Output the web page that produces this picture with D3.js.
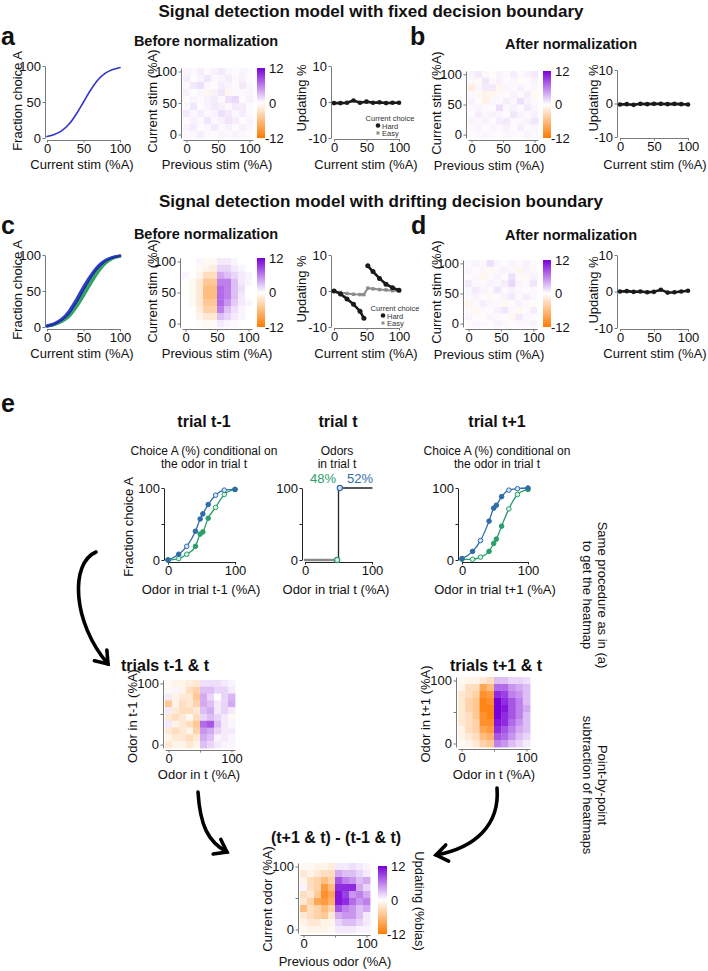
<!DOCTYPE html>
<html><head><meta charset="utf-8">
<script src="https://cdn.jsdelivr.net/npm/d3@7"></script>
<style>body{margin:0;background:#fff}</style>
</head><body><script>
// ---------------- DATA ----------------
const stim = [0,10,20,30,40,50,60,70,80,90,100];
const psychA = [2,5,10,19,33,50,67,81,90,95,98];
const psychC_green1 = [1,3,7,14,27,43,60,76,88,95,98];
const psychC_green2 = [1,3,8,16,30,47,64,79,90,96,98];
const psychC_blue1 = [1,4,10,20,35,53,70,83,92,97,99];
const psychC_blue2 = [2,5,11,22,38,56,72,85,93,97,99];
const psychC_navy = [1,4,9,18,33,51,68,82,91,96,99];

const updA = [-0.3,-0.3,-0.2,0.4,-0.2,0.1,-0.2,-0.1,-0.3,-0.2,-0.2];
const updB = [-0.3,-0.2,-0.4,-0.1,-0.2,-0.1,-0.1,-0.2,-0.1,-0.2,-0.3];
const updD = [0,0.1,-0.1,0,-0.2,-0.1,0.5,-0.3,-0.2,0,0.2];
const updC_hardL_x = [0,10,20,30,40,46];
const updC_hardL_y = [0,-0.8,-2.2,-3.7,-5.6,-7.6];
const updC_hardR_x = [52,60,70,80,90,100];
const updC_hardR_y = [7,5.4,3.5,1.9,0.9,0.2];
const updC_easy_x = [0,10,20,30,40,46,52,60,70,80,90,100];
const updC_easy_y = [0,-0.4,-0.7,-0.9,-1,-1,0.8,0.6,0.4,0.3,0.1,0.1];

const heatA = [
 [0.5,0.3,0.8,0.2,0.6,1.0,0.4,0.2,0.5,0.3],
 [0.8,0.2,0.5,1.2,0.3,0.5,0.9,0.3,0.6,0.2],
 [0.3,1.0,1.5,0.4,0.2,0.8,0.5,0.2,1.0,0.4],
 [0.6,0.2,0.4,-0.8,0.6,1.2,-0.6,0.4,0.3,0.5],
 [0.2,0.5,0.3,0.6,0.9,0.3,1.5,1.8,0.2,0.6],
 [0.4,1.2,0.2,0.5,1.0,0.7,0.3,1.0,0.8,0.2],
 [1.0,0.3,0.8,0.3,0.5,1.5,1.0,0.4,0.9,0.3],
 [0.2,0.6,0.4,1.2,0.3,0.6,1.3,0.8,0.2,0.5],
 [0.5,0.9,0.2,0.4,1.0,0.3,0.6,0.2,0.7,0.4],
 [0.3,0.4,0.8,0.3,0.2,0.5,0.3,0.6,0.4,0.2]];
const heatB = [
 [0.5,1,0.3,-0.2,0.5,0.3,0.8,0.2,0.5,1],
 [0.3,-0.5,1.2,0.3,0.6,0.2,0.4,-0.3,0.2,0.5],
 [-1.5,0.4,1,1,-0.8,0.5,0.3,0.6,0.2,0.3],
 [0.3,-0.5,-1,-0.8,0.4,-0.3,0.6,0.3,0.8,-0.5],
 [0.6,0.2,-1.2,0.4,0.3,0.8,0.4,1.5,0.6,0.3],
 [0.4,0.5,0.3,0.2,1.5,0.3,0.6,0.3,1,0.4],
 [0.2,0.8,0.4,0.6,0.5,0.2,1.2,0.5,0.3,0.6],
 [0.5,0.3,0.6,0.2,0.8,1,0.3,0.4,0.6,1.2],
 [0.3,0.5,0.2,0.5,0.3,0.6,0.2,0.8,0.3,0.4],
 [0.2,0.3,0.5,0.3,0.2,0.4,0.3,0.2,0.5,0.3]];
const heatC = [
 [0,0,0.5,-0.5,-0.5,1,1,0.5,0,0],
 [0,0,-0.5,-1,-1.5,2,2,1,0.5,0],
 [0.5,0,-1,-3,-3,4,3,2,1,0.5],
 [0,-0.5,-2,-5,-5,6,6,3,1,0.5],
 [0,-0.5,-2,-6,-6,7,6,3,1.5,0],
 [0,-0.5,-2,-6,-6,7,6,3,1,0],
 [0,-0.5,-2,-5,-5,7,5,2.5,1,0.5],
 [0,0,-1.5,-4,-4,6,3,1.5,0.5,0],
 [0,0,-1,-2,-2,3,2,1,0.5,0],
 [0,0,-0.3,-0.5,-0.5,1,0.5,0.3,0,0]];
const heatD = [
 [0.3,0.5,0.3,1.5,0.4,0.2,0.5,0.3,0.6,0.2],
 [0.5,0.2,0.4,-0.5,0.3,0.6,0.4,-0.8,0.5,0.3],
 [0.2,0.4,-0.8,0.3,0.5,0.2,1.5,0.3,-0.5,0.6],
 [1,0.3,0.2,0.6,0.4,0.8,2,0.5,0.3,1.2],
 [0.4,1,0.5,0.3,1.2,0.3,0.6,0.4,0.2,0.3],
 [0.3,0.6,0.2,-0.5,0.2,0.5,1,0.3,0.8,0.4],
 [-0.8,0.3,0.8,0.4,0.3,-0.5,0.2,0.6,0.3,-0.3],
 [0.3,-0.6,0.3,0.2,0.6,1.2,0.4,-0.5,0.2,0.8],
 [0.5,0.2,-0.4,0.5,0.3,0.2,-0.6,1,0.4,0.2],
 [0.2,0.4,0.3,0.2,0.5,0.3,0.2,0.4,0.3,0.5]];

const odor = [0,16,28,41,48,52,60,71,84,100];
const tm1Blue = [0,8,19,40,57,64,77,90,97,98];
const tm1Green = [0,2,8,19,36,39,58,73,91,98];
const tp1Blue = [2,12,27,54,72,76,88,97,99,100];
const tp1Green = [1,1,4,12,23,29,47,71,91,98];
const blueOpen = [0,0,1,0,0,0,0,1,1,0];
const greenOpen = [0,1,1,0,0,0,0,1,1,0];
const tGrayX = [0,48], tGrayY = [0,0];
const tStepX = [50,50,100], tStepY = [0,100,100];
const tGreenPt = [48,0], tBluePt = [52,100];

const heatTm1 = [
 [-0.5,-1,-1,-1.5,-2,1.5,1.5,1.5,1,0.5],
 [-0.5,0.5,-1,-3,-4,3,3,2,2,1],
 [1,-1,-2,-2,-5,4,2,0,2,3.5],
 [-5,-1,-3,-2,-4,4,3,1,2,4],
 [1,-2,-3,-3,-2,3,4,1,2,1],
 [-2,-3,-2,-0.5,-3,2,3,2,1,-0.5],
 [1,-1,-2,-3,-5,7,8,3,1,0.5],
 [-2,-3,-2,-1,-4,5,4,2,1,1],
 [-1,-2,-2,-3,-2,4,3,0.5,1,0.5],
 [-2,-1,-1,-2,-1,3,2,1,0.5,0.5]];
const heatTp1 = [
 [-0.5,-1,-1,-2,-3,3,3,2,2,1.5],
 [-1,-3,-3,-8,-6,7,7,5,4,3],
 [-2,-3,-4,-10,-9,10,9,6,5,3],
 [-2,-4,-5,-11,-10,12,10,8,6,3],
 [-2,-4,-5,-11,-11,12,11,8,6,4],
 [-2,-3,-5,-10,-11,12,10,8,6,3],
 [-2,-3,-4,-10,-10,11,10,7,5,3],
 [-1,-3,-4,-8,-9,10,8,6,4,3],
 [-1,-2,-3,-6,-7,8,7,5,3,2],
 [-0.5,-1,-2,-4,-5,6,5,3,2,1]];
const heatDiff = [
 [-0.5,-0.5,-1,-1,-1.5,1,1,1.5,1,0.5],
 [-2,-1,-2,-3,-3,4,3,3,2,1],
 [-1,-3,-4,-6,-4,8,6,5,3,4],
 [0.5,-3,-4,-9,-6,10,10,10,4,2],
 [-3,-2,-5,-10,-8,11,9,5,6,4],
 [-2,-4,-8,-9,-7,11,10,7,5,6],
 [-6,-3,-4,-6,-4,8,6,5,3,4],
 [-2,-3,-4,-5,-2,4,5,5,3,1],
 [-1,-2,-2,-1,-1,2,3,3,2,1],
 [-0.5,-1,-1,-1,-0.5,1,1,1,0.5,0.5]];

const tickStim = [0,50,100], tickUpd = [-10,0,10];

// ---------------- DRAWING ----------------
const FONT = '"Liberation Sans", Arial, Helvetica, sans-serif';
const ORANGE = '#ff7a00', PURPLE = '#7a00d8';
const GRAY = '#7a7a7a';
const BLUE_E = '#2f6ca8', GREEN_E = '#2a9f6c';
const color = d3.scaleLinear().domain([-12,0,12]).range([ORANGE,'#ffffff',PURPLE]).clamp(true);

const svg = d3.select('body').append('svg').attr('width',708).attr('height',971)
  .style('font-family',FONT);
const defs = svg.append('defs');
const grad = defs.append('linearGradient').attr('id','cbar').attr('x1',0).attr('y1',1).attr('x2',0).attr('y2',0);
d3.range(0,1.0001,0.1).forEach(t=>grad.append('stop').attr('offset',t).attr('stop-color',color(-12+24*t)));

function txt(x,y,s,o={}){
  const t = svg.append('text').attr('x',x).attr('y',y).text(s)
    .attr('font-size',o.fs||13).attr('text-anchor',o.anchor||'middle')
    .attr('fill',o.fill||'#111').attr('font-family',FONT);
  if(o.bold) t.attr('font-weight','bold');
  if(o.rot){ t.attr('transform',`rotate(${o.rot},${x},${y})`).attr('dy','0.35em'); }
  return t;
}
function styleAxis(g,col,fs){
  g.attr('font-family',FONT);
  g.select('.domain').attr('stroke',col).attr('stroke-width',1);
  g.selectAll('.tick line').attr('stroke',col);
  g.selectAll('.tick text').attr('font-size',fs).attr('fill','#111');
}
function axL(scale,x,vals,labels,col,fs=13){
  const a = d3.axisLeft(scale).tickValues(vals).tickSize(2.5).tickSizeOuter(0).tickPadding(1.5)
    .tickFormat((d,i)=>labels[i]);
  styleAxis(svg.append('g').attr('transform',`translate(${x},0)`).call(a),col,fs);
}
function axB(scale,y,vals,labels,col,fs=13){
  const a = d3.axisBottom(scale).tickValues(vals).tickSize(2.5).tickSizeOuter(0).tickPadding(1.5)
    .tickFormat((d,i)=>labels[i]);
  styleAxis(svg.append('g').attr('transform',`translate(0,${y})`).call(a),col,fs);
}
function drawLine(xs,ys,sx,sy,o){
  const ln = d3.line().x((d,i)=>sx(xs[i])).y((d,i)=>sy(ys[i])).curve(o.curve||d3.curveLinear);
  svg.append('path').attr('d',ln(xs)).attr('fill','none').attr('stroke',o.stroke)
    .attr('stroke-width',o.w||1.5).attr('stroke-linejoin','round').attr('stroke-linecap','round');
}
function dots(xs,ys,sx,sy,o){
  svg.append('g').selectAll('circle').data(xs).join('circle')
    .attr('cx',(d,i)=>sx(xs[i])).attr('cy',(d,i)=>sy(ys[i])).attr('r',o.r||2.3)
    .attr('fill',(d,i)=> o.open && o.open[i] ? (o.openFill||'#fff') : o.fill)
    .attr('stroke',o.stroke||'none').attr('stroke-width',o.sw||1);
}
function heatmap(data,x0,y0,w,h,o){
  const n=data.length, m=data[0].length;
  const xb=d3.scaleBand().domain(d3.range(m)).range([x0,x0+w]);
  const yb=d3.scaleBand().domain(d3.range(n)).range([y0,y0+h]);
  const cells=[]; data.forEach((row,r)=>row.forEach((v,c)=>cells.push({r,c,v})));
  svg.append('g').selectAll('rect').data(cells).join('rect')
    .attr('x',d=>xb(d.c)).attr('y',d=>yb(d.r))
    .attr('width',xb.bandwidth()+0.4).attr('height',yb.bandwidth()+0.4)
    .attr('fill',d=>color(d.v));
  const hx=50/(m-1), hy=50/(n-1);
  const xl=d3.scaleLinear().domain([-hx,100+hx]).range([x0,x0+w]);
  const yl=d3.scaleLinear().domain([-hy,100+hy]).range([y0+h,y0]);
  const labs = o.midLabel===false ? ['0','','100'] : ['0','50','100'];
  axL(yl,x0-2,tickStim,labs,GRAY,o.fs||13);
  axB(xl,y0+h+2,tickStim,labs,GRAY,o.fs||13);
  if(o.cbar){
    const c=o.cbar;
    const cs=d3.scaleLinear().domain([-12,12]).range([c.y+c.h,c.y]);
    svg.append('rect').attr('x',c.x).attr('y',cs(12)).attr('width',c.w).attr('height',cs(-12)-cs(12)).attr('fill','url(#cbar)');
    [12,0,-12].forEach(v=>{
      txt(c.x+c.w+(v<0?0:4), cs(v), String(v), {anchor:'start'}).attr('dy','0.35em');
    });
  }
}
function arrow(p0,c1,c2,p1){
  svg.append('path').attr('d',`M${p0}C${c1} ${c2} ${p1}`).attr('fill','none')
    .attr('stroke','#000').attr('stroke-width',3.6).attr('stroke-linecap','round');
  const dx=p1[0]-c2[0], dy=p1[1]-c2[1], L=Math.hypot(dx,dy);
  const bx=-dx/L, by=-dy/L, len=14, a=36*Math.PI/180;
  const w1=[p1[0]+len*(bx*Math.cos(a)-by*Math.sin(a)), p1[1]+len*(bx*Math.sin(a)+by*Math.cos(a))];
  const w2=[p1[0]+len*(bx*Math.cos(a)+by*Math.sin(a)), p1[1]+len*(-bx*Math.sin(a)+by*Math.cos(a))];
  svg.append('path').attr('d',`M${w1}L${p1}L${w2}`).attr('fill','none')
    .attr('stroke','#000').attr('stroke-width',3.6).attr('stroke-linecap','round').attr('stroke-linejoin','miter');
}
function legend(cx,y,mx){
  txt(cx,y,'Current choice',{fs:7.5,fill:'#333'});
  svg.append('circle').attr('cx',mx).attr('cy',y+4.5).attr('r',2.3).attr('fill','#1a1a1a');
  txt(mx+4,y+7.5,'Hard',{fs:7.5,anchor:'start',fill:'#333'});
  svg.append('rect').attr('x',mx-1.5).attr('y',y+10.5).attr('width',3).attr('height',3).attr('fill','#8c8c8c');
  txt(mx+4,y+15,'Easy',{fs:7.5,anchor:'start',fill:'#333'});
}

// ---------- Titles ----------
txt(371,17,'Signal detection model with fixed decision boundary',{fs:17,bold:true});
txt(381,207,'Signal detection model with drifting decision boundary',{fs:17,bold:true});
txt(1,45,'a',{fs:25,bold:true,anchor:'start'});
txt(410,45,'b',{fs:25,bold:true,anchor:'start'});
txt(1,234,'c',{fs:25,bold:true,anchor:'start'});
txt(411,234,'d',{fs:25,bold:true,anchor:'start'});
txt(1,412,'e',{fs:25,bold:true,anchor:'start'});
txt(206,46,'Before normalization',{fs:14.5,bold:true});
txt(571,49,'After normalization',{fs:14.5,bold:true});
txt(206,239,'Before normalization',{fs:14.5,bold:true});
txt(571,240,'After normalization',{fs:14.5,bold:true});

// ---------- Panel a ----------
{
  const sx=d3.scaleLinear().domain([0,100]).range([47,120]);
  const sy=d3.scaleLinear().domain([0,100]).range([138,66]);
  axL(sy,45,tickStim,['0','50','100'],GRAY); axB(sx,140,tickStim,['0','50','100'],GRAY);
  drawLine(stim,psychA,sx,sy,{stroke:'#3434c8',w:1.6,curve:d3.curveMonotoneX});
  txt(17,101,'Fraction choice A',{rot:-90});
  txt(82,169,'Current stim (%A)');
}
heatmap(heatA,183,68,70,70,{cbar:{x:257,y:68,w:8,h:70}});
txt(152,101,'Current stim (%A)',{rot:-90});
txt(217,169,'Previous stim (%A)');
function updPlot(sxr,syr,axX,axY){
  const sx=d3.scaleLinear().domain([0,100]).range(sxr);
  const sy=d3.scaleLinear().domain([-10,10]).range(syr);
  axL(sy,axX,tickUpd,['-10','0','10'],GRAY); axB(sx,axY,tickStim,['0','50','100'],GRAY);
  return {sx,sy};
}
{
  const {sx,sy}=updPlot([334,399],[138,66],331,139);
  drawLine(stim,updA,sx,sy,{stroke:'#1a1a1a',w:2.6});
  dots(stim,updA,sx,sy,{fill:'#1a1a1a',r:2.3});
  txt(301,98,'Updating %',{rot:-90});
  txt(366,169,'Current stim (%A)');
  legend(390,121,378);
}
// ---------- Panel b ----------
heatmap(heatB,468,71,70,67,{cbar:{x:543,y:71,w:8,h:67}});
txt(436,103,'Current stim (%A)',{rot:-90});
txt(489,170,'Previous stim (%A)');
{
  const {sx,sy}=updPlot([620,688],[137,70],617,138);
  drawLine(stim,updB,sx,sy,{stroke:'#1a1a1a',w:2.6});
  dots(stim,updB,sx,sy,{fill:'#1a1a1a',r:2.3});
  txt(593,98,'Updating %',{rot:-90});
  txt(655,169,'Current stim (%A)');
}
// ---------- Panel c ----------
{
  const sx=d3.scaleLinear().domain([0,100]).range([47,120]);
  const sy=d3.scaleLinear().domain([0,100]).range([327,255]);
  axL(sy,45,tickStim,['0','50','100'],GRAY); axB(sx,329,tickStim,['0','50','100'],GRAY);
  drawLine(stim,psychC_green1,sx,sy,{stroke:'#2e9e62',w:2.6,curve:d3.curveMonotoneX});
  drawLine(stim,psychC_green2,sx,sy,{stroke:'#35a56a',w:2.6,curve:d3.curveMonotoneX});
  drawLine(stim,psychC_blue1,sx,sy,{stroke:'#2a40c4',w:2.6,curve:d3.curveMonotoneX});
  drawLine(stim,psychC_blue2,sx,sy,{stroke:'#2f3fc8',w:2.6,curve:d3.curveMonotoneX});
  drawLine(stim,psychC_navy,sx,sy,{stroke:'#1c2a8c',w:1.2,curve:d3.curveMonotoneX});
  txt(17,290,'Fraction choice A',{rot:-90});
  txt(82,358,'Current stim (%A)');
}
heatmap(heatC,182,258,70,69,{cbar:{x:257,y:258,w:8,h:69}});
txt(152,291,'Current stim (%A)',{rot:-90});
txt(217,358,'Previous stim (%A)');
{
  const {sx,sy}=updPlot([334,399],[327,255],331,328);
  drawLine(updC_easy_x,updC_easy_y,sx,sy,{stroke:'#8c8c8c',w:2});
  svg.append('g').selectAll('rect').data(updC_easy_x).join('rect')
    .attr('x',(d,i)=>sx(d)-1.7).attr('y',(d,i)=>sy(updC_easy_y[i])-1.7).attr('width',3.4).attr('height',3.4).attr('fill','#8c8c8c');
  drawLine(updC_hardL_x,updC_hardL_y,sx,sy,{stroke:'#1a1a1a',w:2.6});
  drawLine(updC_hardR_x,updC_hardR_y,sx,sy,{stroke:'#1a1a1a',w:2.6});
  dots(updC_hardL_x,updC_hardL_y,sx,sy,{fill:'#1a1a1a',r:2.5});
  dots(updC_hardR_x,updC_hardR_y,sx,sy,{fill:'#1a1a1a',r:2.5});
  txt(301,289,'Updating %',{rot:-90});
  txt(366,358,'Current stim (%A)');
  legend(395,311,383);
}
// ---------- Panel d ----------
heatmap(heatD,465,260,72,67,{cbar:{x:543,y:260,w:8,h:67}});
txt(436,292,'Current stim (%A)',{rot:-90});
txt(489,359,'Previous stim (%A)');
{
  const {sx,sy}=updPlot([620,688],[328,255],617,329);
  drawLine(stim,updD,sx,sy,{stroke:'#1a1a1a',w:2.6});
  dots(stim,updD,sx,sy,{fill:'#1a1a1a',r:2.3});
  txt(593,290,'Updating %',{rot:-90});
  txt(655,358,'Current stim (%A)');
}

// ---------- Panel e ----------
txt(204,427,'trial t-1',{fs:16,bold:true});
txt(338,427,'trial t',{fs:16,bold:true});
txt(497,427,'trial t+1',{fs:16,bold:true});
txt(204,455,'Choice A (%) conditional on',{fs:12});
txt(204,468,'the odor in trial t',{fs:12});
txt(337,455,'Odors',{fs:12});
txt(337,468,'in trial t',{fs:12});
txt(497,455,'Choice A (%) conditional on',{fs:12});
txt(497,468,'the odor in trial t',{fs:12});
txt(323,483,'48%',{fs:13,fill:GREEN_E});
txt(360,483,'52%',{fs:13,fill:BLUE_E});

function psychE(xr,axX,blue,green){
  const sx=d3.scaleLinear().domain([0,100]).range(xr);
  const sy=d3.scaleLinear().domain([0,100]).range([560,488]);
  axL(sy,axX,tickStim,['0','','100'],'#222'); axB(sx,562,[0,100],['0','100'],'#222');
  drawLine(odor,green,sx,sy,{stroke:GREEN_E,w:1.3,curve:d3.curveMonotoneX});
  drawLine(odor,blue,sx,sy,{stroke:BLUE_E,w:1.3,curve:d3.curveMonotoneX});
  dots(odor,green,sx,sy,{fill:GREEN_E,stroke:GREEN_E,r:2.3,sw:1,open:greenOpen,openFill:'#d8efe4'});
  dots(odor,blue,sx,sy,{fill:BLUE_E,stroke:BLUE_E,r:2.3,sw:1,open:blueOpen,openFill:'#d6e4f2'});
}
psychE([168,235],164,tm1Blue,tm1Green);
txt(128,527,'Fraction choice A',{rot:-90});
txt(201,594,'Odor in trial t-1 (%A)');
psychE([462,528],458,tp1Blue,tp1Green);
txt(495,594,'Odor in trial t+1 (%A)');
{
  const sx=d3.scaleLinear().domain([0,100]).range([305,372]);
  const sy=d3.scaleLinear().domain([0,100]).range([560,488]);
  axL(sy,302,tickStim,['0','','100'],'#222'); axB(sx,562,[0,100],['0','100'],'#222');
  drawLine(tGrayX,tGrayY,sx,sy,{stroke:'#8a8a8a',w:2.6});
  drawLine(tStepX,tStepY,sx,sy,{stroke:'#222',w:1.3});
  dots([tGreenPt[0]],[tGreenPt[1]],sx,sy,{fill:'#d8efe4',stroke:GREEN_E,r:2.6,sw:1.2});
  dots([tBluePt[0]],[tBluePt[1]],sx,sy,{fill:'#d6e4f2',stroke:BLUE_E,r:2.6,sw:1.2});
  txt(336,594,'Odor in trial t (%A)');
}
txt(603,595,'Same procedure as in (a)',{rot:90});
txt(588,595,'to get the heatmap',{rot:90});
txt(603,785,'Point-by-point',{rot:90});
txt(588,785,'subtraction of heatmaps',{rot:90});

txt(165,671,'trials t-1 & t',{fs:16,bold:true});
heatmap(heatTm1,165,680,70,68,{midLabel:false});
txt(132,716,'Odor in t-1 (%A)',{rot:-90});
txt(199,779,'Odor in t (%A)');

txt(496,671,'trials t+1 & t',{fs:16,bold:true});
heatmap(heatTp1,458,677,72,70,{midLabel:false});
txt(425,714,'Odor in t+1 (%A)',{rot:-90});
txt(494,779,'Odor in t (%A)');

txt(336,843,'(t+1 & t) - (t-1 & t)',{fs:16,bold:true});
heatmap(heatDiff,300,863,70,70,{midLabel:false,cbar:{x:378,y:866,w:9,h:68}});
txt(267,899,'Current odor (%A)',{rot:-90});
txt(335,966,'Previous odor (%A)');
txt(420,901,'Updating (%bias)',{rot:90});

arrow([96,552],[70,563],[72,622],[108,664]);
arrow([198,792],[200,825],[208,842],[227,852]);
arrow([497,788],[500,825],[475,848],[436,855]);
</script></body></html>
